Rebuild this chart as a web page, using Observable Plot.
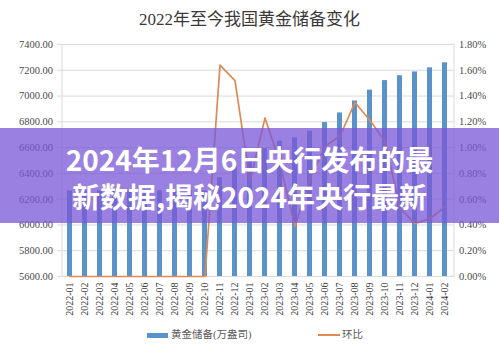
<!DOCTYPE html>
<html>
<head>
<meta charset="utf-8">
<script src="https://cdn.jsdelivr.net/npm/d3@7"></script>
<script src="https://cdn.jsdelivr.net/npm/@observablehq/plot@0.6"></script>
<style>
  html, body { margin: 0; padding: 0; background: #fff; }
  #wrap { position: relative; width: 499px; height: 352px; overflow: hidden; background: #fff; }
  #title { position: absolute; top: 9px; left: 0; width: 499px; text-align: center;
    font-family: "Liberation Serif", "Noto Sans CJK SC", serif; font-size: 17px; color: #3a3a3a; line-height: 22px; }
  #chart { position: absolute; top: 30px; left: 0; }
  #legend { position: absolute; top: 326px; left: 0; width: 499px; height: 20px;
    font-family: "Liberation Serif", "Noto Sans CJK SC", serif; font-size: 10.5px; color: #595959; }
  .lg { position: absolute; top: 0; line-height: 18px; white-space: nowrap; }
  .sw { position: absolute; }
  #banner { position: absolute; left: 0; top: 128px; width: 499px; height: 95px; box-sizing: border-box;
    padding-top: 13px; background: rgba(122, 88, 214, 0.76); color: #fff; text-align: center;
    font-family: "Noto Sans CJK SC", sans-serif; font-weight: 700; font-size: 28px; line-height: 37px; }
</style>
</head>
<body>
<div id="wrap">
  <div id="title"></div>
  <div id="chart"></div>
  <div id="legend"></div>
  <div id="banner"></div>
</div>
<script>
const titleText = "2022年至今我国黄金储备变化";
const bannerLines = ["2024年12月6日央行发布的最", "新数据,揭秘2024年央行最新"];
const months = ["2022-01","2022-02","2022-03","2022-04","2022-05","2022-06","2022-07","2022-08","2022-09","2022-10","2022-11","2022-12",
  "2023-01","2023-02","2023-03","2023-04","2023-05","2023-06","2023-07","2023-08","2023-09","2023-10","2023-11","2023-12",
  "2024-01","2024-02"];
const reserves = [6264,6264,6264,6264,6264,6264,6264,6264,6264,6264,6367,6464,
  6512,6592,6650,6676,6727,6795,6869,6962,7046,7120,7158,7187,7219,7258];
const momPct = [0,0,0,0,0,0,0,0,0,0,1.64,1.52,
  0.74,1.23,0.88,0.39,0.76,1.01,1.09,1.35,1.21,1.05,0.53,0.41,0.45,0.54];
const leftTicks = [5600,5800,6000,6200,6400,6600,6800,7000,7200,7400];
const rightTicks = [0,0.2,0.4,0.6,0.8,1.0,1.2,1.4,1.6,1.8];
const seriesNames = ["黄金储备(万盎司)", "环比"];

const barColor = "#5a93c9";
const lineColor = "#dc8b57";

// right axis (%) shares the left scale: 0% ↔ 5600, 1.8% ↔ 7400
const yMin = leftTicks[0], yMax = leftTicks[leftTicks.length - 1];
const pctMax = rightTicks[rightTicks.length - 1];
const toLeft = p => yMin + p / pctMax * (yMax - yMin);

const data = months.map((m, i) => ({month: m, value: reserves[i], pct: momPct[i]}));

document.getElementById("title").textContent = titleText;
document.getElementById("banner").innerHTML = bannerLines.map(t => `<div>${t}</div>`).join("");

const serif = "'Liberation Serif', serif";
const chart = Plot.plot({
  width: 499,
  height: 290,
  marginTop: 14,
  marginBottom: 44,
  marginLeft: 61.5,
  marginRight: 45.5,
  style: {fontFamily: serif, fontSize: "10.5px", color: "#4a4a4a", background: "transparent"},
  x: {type: "band", domain: months, paddingInner: 0.64, paddingOuter: 0.32, align: 0.5},
  y: {domain: [yMin, yMax]},
  marks: [
    Plot.gridY(leftTicks, {stroke: "#d9d9d9", strokeOpacity: 1}),
    Plot.frame({stroke: "#d9d9d9", strokeOpacity: 1}),
    Plot.barY(data, {x: "month", y1: yMin, y2: "value", fill: barColor}),
    Plot.line(data, {x: "month", y: d => toLeft(d.pct), stroke: lineColor, strokeWidth: 1.7}),
    Plot.axisY(leftTicks, {anchor: "left", tickFormat: d => d.toFixed(2), tickSize: 4, tickPadding: 5,
      stroke: "#d9d9d9", strokeOpacity: 1, label: null, fill: "#4a4a4a", fontSize: 10.5}),
    Plot.axisY(rightTicks.map(toLeft), {anchor: "right", tickFormat: (d, i) => rightTicks[i].toFixed(2) + "%",
      tickSize: 0, tickPadding: 5, label: null, fill: "#4a4a4a", fontSize: 10.5}),
    Plot.axisX(months, {tickRotate: -90, tickSize: 0, tickPadding: 6, label: null, fill: "#3a3a3a", fontSize: 10})
  ]
});
document.getElementById("chart").appendChild(chart);

const legend = document.getElementById("legend");
legend.innerHTML = `
  <div class="sw" style="left:147px;top:7px;width:21px;height:5px;background:${barColor}"></div>
  <div class="lg" style="left:171px">${seriesNames[0]}</div>
  <div class="sw" style="left:318px;top:8px;width:22px;height:2px;background:${lineColor}"></div>
  <div class="lg" style="left:342px">${seriesNames[1]}</div>`;
</script>
</body>
</html>
